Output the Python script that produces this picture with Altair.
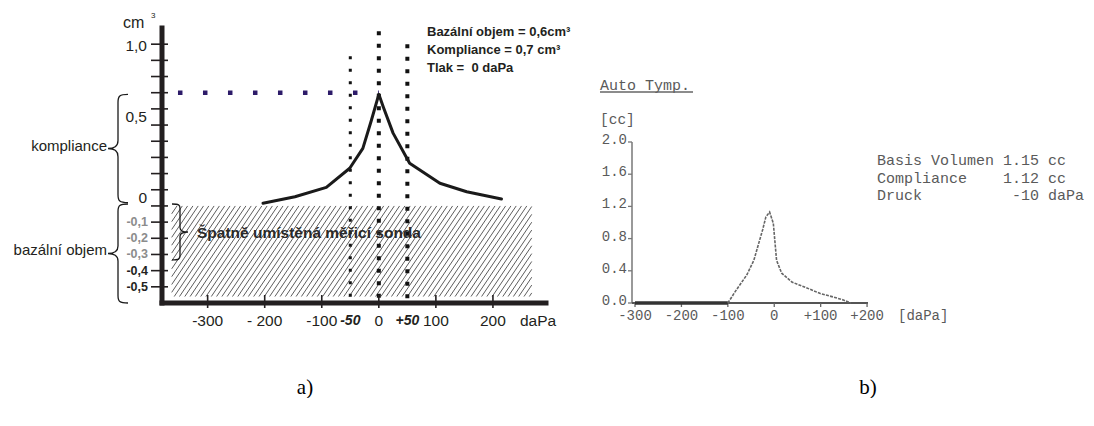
import altair as alt
import numpy as np
import pandas as pd

# ---------------- panel a) data ----------------
a_pressure = [-203, -147, -92, -51, -28, -13, 0, 8, 25, 54, 107, 154, 215]
a_volume = [0.017, 0.057, 0.115, 0.233, 0.356, 0.53, 0.69, 0.61, 0.45, 0.264, 0.14, 0.088, 0.043]
a_xticks = [-300, -200, -100, 0, 100, 200]
a_xtick_labels = ["-300", "- 200", "-100", "0", "100", "200"]
a_mark_x = [-50, 50]
a_mark_labels = ["-50", "+50"]
a_yticks = [1.0, 0.9, 0.8, 0.7, 0.6, 0.5, 0.4, 0.3, 0.2, 0.1, 0.0, -0.1, -0.2, -0.3, -0.4, -0.5]
a_ylab_top = [1.0]
a_ylab_top_text = ["1,0"]
a_ylab_mid = [0.5, 0.0]
a_ylab_mid_text = ["0,5", "0"]
a_ylab_gray = [-0.1, -0.2, -0.3]
a_ylab_gray_text = ["-0,1", "-0,2", "-0,3"]
a_ylab_bold = [-0.4, -0.5]
a_ylab_bold_text = ["-0,4", "-0,5"]
a_compliance = 0.7
a_compliance_from = -352
a_guides = [-50, 0, 50]
a_guide_tops = [0.925, 1.08, 1.0]
a_guide_bottom = -0.612
a_hatch_x = [-363, 268]
a_hatch_y = [-0.56, 0.0]
a_info = ["Bazální objem = 0,6cm³", "Kompliance = 0,7 cm³", "Tlak =  0 daPa"]
a_komp_span = [0.02, 0.69]
a_baz_span = [-0.6, 0.012]
a_probe_span = [-0.334, 0.012]

# ---------------- panel b) data ----------------
b_pressure = [-100, -82, -59, -44, -33, -25, -18, -10, -2, 5, 16, 38, 69, 98, 127, 149, 165]
b_volume = [0.0, 0.16, 0.35, 0.53, 0.75, 0.91, 1.07, 1.13, 0.99, 0.53, 0.37, 0.26, 0.19, 0.12, 0.075, 0.037, 0.0]
b_base_pressure = [-300, -100]
b_base_volume = [0.0, 0.0]
b_xticks = [-300, -200, -100, 0, 100, 200]
b_xtick_labels = ["-300", "-200", "-100", "0", "+100", "+200"]
b_yticks = [0.0, 0.4, 0.8, 1.2, 1.6, 2.0]
b_ytick_labels = ["0.0", "0.4", "0.8", "1.2", "1.6", "2.0"]
b_info = ["Basis Volumen 1.15 cc", "Compliance    1.12 cc", "Druck          -10 daPa"]

NBSP = "\u00a0"
a_info_txt = [s.replace(" ", NBSP) for s in a_info]
b_info_txt = [s.replace(" ", NBSP) for s in b_info]

# ---------------- geometry ----------------
WA, HA = 384, 275
XA = [-380, 293]
YA = [-0.6, 1.1]
WB, HB = 236, 275
XB = [-306.5, 202]
YB = [0.0, 3.416]
pxA = WA / (XA[1] - XA[0])
pyA = HA / (YA[1] - YA[0])

sxA = alt.Scale(domain=XA, nice=False, zero=False)
syA = alt.Scale(domain=YA, nice=False, zero=False)
sxB = alt.Scale(domain=XB, nice=False, zero=False)
syB = alt.Scale(domain=YB, nice=False, zero=False)

SANS = "Liberation Sans"
MONO = "Liberation Mono"
INK = "#231f20"
GREY_B = "#5a5a5a"

one = pd.DataFrame({"_": [0]})


def XQ(f, s):
    return alt.X(f, type="quantitative", scale=s, axis=None)


def YQ(f, s):
    return alt.Y(f, type="quantitative", scale=s, axis=None)


def brace_path(w, tip):
    t = -w if tip == "left" else w
    e = -t
    f = lambda v: f"{v:.3f}"
    return (f"M{f(e)},-1 C{f(e*0.15)},-1 0,-0.97 0,-0.85 L0,-0.15 "
            f"C0,-0.04 {f(t*0.4)},0 {f(t)},0 C{f(t*0.4)},0 0,0.04 0,0.15 "
            f"L0,0.85 C0,0.97 {f(e*0.15)},1 {f(e)},1")


def brace(span, xpx, halfw_px, tip):
    h = (span[1] - span[0]) * pyA
    df = pd.DataFrame({"y": [(span[0] + span[1]) / 2]})
    return alt.Chart(df).mark_point(
        shape=brace_path(halfw_px / (h / 2), tip), size=h * h, filled=False,
        color="#1a1a1a", strokeWidth=1.3, opacity=1
    ).encode(x=alt.value(xpx), y=YQ("y", syA))


# hatch lines inside the "wrong probe" rectangle
Wh = (a_hatch_x[1] - a_hatch_x[0]) * pxA
Hh = (a_hatch_y[1] - a_hatch_y[0]) * pyA
k = np.tan(np.radians(56))
rows = []
for c in np.arange(-Hh / k, Wh, 5.3):
    u0 = max(0.0, c)
    u1 = min(Wh, c + Hh / k)
    rows.append({
        "x": a_hatch_x[0] + u0 / pxA, "y": a_hatch_y[0] + k * (u0 - c) / pyA,
        "x2": a_hatch_x[0] + u1 / pxA, "y2": a_hatch_y[0] + k * (u1 - c) / pyA,
    })
hatch_df = pd.DataFrame(rows)

# ---------------- panel a) layers ----------------
anchor = alt.Chart(one).mark_rect(opacity=0).encode(
    x=alt.value(-154), x2=alt.value(-153), y=alt.value(-20), y2=alt.value(-19))

hatch = alt.Chart(hatch_df).mark_rule(color="#333333", strokeWidth=0.8).encode(
    x=XQ("x", sxA), y=YQ("y", syA), x2="x2", y2="y2")

comp = alt.Chart(pd.DataFrame({"x": [a_compliance_from], "x2": [0], "y": [a_compliance]})).mark_rule(
    color="#2d1b69", strokeWidth=4.5, strokeDash=[4.5, 20.5]).encode(
    x=XQ("x", sxA), x2="x2", y=YQ("y", syA))

guide_styles = [(3, [3, 9.5]), (4, [4, 8.5]), (4, [4, 8.5])]
guides = []
for gx, gt, (gw, gd) in zip(a_guides, a_guide_tops, guide_styles):
    guides.append(alt.Chart(pd.DataFrame({"x": [gx], "y": [gt], "y2": [a_guide_bottom]})).mark_rule(
        color="#111111", strokeWidth=gw, strokeDash=gd).encode(
        x=XQ("x", sxA), y=YQ("y", syA), y2="y2"))

curveA = alt.Chart(pd.DataFrame({"p": a_pressure, "v": a_volume})).mark_line(
    color="#1a1a1a", strokeWidth=3, strokeJoin="round", strokeCap="round").encode(
    x=XQ("p", sxA), y=YQ("v", syA))

yaxisA = alt.Chart(one).mark_rule(color=INK, strokeWidth=5, strokeCap="square").encode(
    x=alt.value(0), y=alt.value(0), y2=alt.value(HA))
xaxisA = alt.Chart(one).mark_rule(color=INK, strokeWidth=5, strokeCap="square").encode(
    y=alt.value(HA), x=alt.value(0), x2=alt.value(WA))

yticksA = alt.Chart(pd.DataFrame({"v": a_yticks})).mark_rule(color=INK, strokeWidth=1.6).encode(
    y=YQ("v", syA), x=alt.value(-11), x2=alt.value(6))
xticksA = alt.Chart(pd.DataFrame({"v": a_xticks})).mark_rule(color=INK, strokeWidth=1.6).encode(
    x=XQ("v", sxA), y=alt.value(HA - 8), y2=alt.value(HA + 5))


def ylabels(vals, texts, dx, dy, **kw):
    return alt.Chart(pd.DataFrame({"v": vals, "t": texts})).mark_text(
        align="right", baseline="middle", font=SANS, dy=dy, **kw).encode(
        x=alt.value(dx), y=YQ("v", syA), text="t:N")


ylabA1 = ylabels(a_ylab_top, a_ylab_top_text, -15, 2, fontSize=15.5, color=INK)
ylabA2 = ylabels(a_ylab_mid, a_ylab_mid_text, -15, -8, fontSize=15.5, color=INK)
ylabA3 = ylabels(a_ylab_gray, a_ylab_gray_text, -14, 0, fontSize=12.5, fontWeight="bold", color="#8c8c8c")
ylabA4 = ylabels(a_ylab_bold, a_ylab_bold_text, -14, 0, fontSize=12.5, fontWeight="bold", color=INK)

xlabA = alt.Chart(pd.DataFrame({"v": a_xticks, "t": a_xtick_labels})).mark_text(
    align="center", baseline="middle", font=SANS, fontSize=15.5, color=INK).encode(
    x=XQ("v", sxA), y=alt.value(HA + 18), text="t:N")
xlabA2 = alt.Chart(pd.DataFrame({"v": a_mark_x, "t": a_mark_labels})).mark_text(
    align="center", baseline="middle", font=SANS, fontSize=14, fontWeight="bold",
    fontStyle="italic", color=INK).encode(
    x=XQ("v", sxA), y=alt.value(HA + 18), text="t:N")
unitA = alt.Chart(one).mark_text(align="left", baseline="middle", font=SANS, fontSize=15.5,
                                 color=INK, text="daPa").encode(x=alt.value(358), y=alt.value(HA + 18))

cmA = alt.Chart(one).mark_text(align="left", baseline="middle", font=SANS, fontSize=16,
                               color=INK, text="cm").encode(x=alt.value(-39), y=alt.value(-5))
cm3A = alt.Chart(one).mark_text(align="left", baseline="middle", font=SANS, fontSize=8,
                                color=INK, text="3").encode(x=alt.value(-11), y=alt.value(-12))

kompA = alt.Chart(one).mark_text(align="right", baseline="middle", font=SANS, fontSize=15,
                                 color=INK, text="kompliance").encode(x=alt.value(-55), y=alt.value(118))
bazA = alt.Chart(one).mark_text(align="right", baseline="middle", font=SANS, fontSize=15,
                                color=INK, text="bazální objem").encode(x=alt.value(-55), y=alt.value(222))

probeA = alt.Chart(one).mark_text(align="left", baseline="middle", font=SANS, fontSize=15.5,
                                  fontWeight="bold", color="#2a2a2a",
                                  text="Špatně umístěná měřicí sonda").encode(
    x=alt.value(35), y=alt.datum(-0.167))

infoA = alt.Chart(one).mark_text(align="left", baseline="middle", font=SANS, fontSize=13,
                                 fontWeight="bold", color=INK, text=a_info_txt, lineHeight=18).encode(
    x=alt.value(265), y=alt.value(4))

labelA = alt.Chart(one).mark_text(align="center", baseline="middle", font="Liberation Serif",
                                  fontSize=21, color="#000000", text="a)").encode(
    x=alt.value(143), y=alt.value(360))

panelA = alt.layer(
    anchor, hatch, comp, *guides, curveA, yaxisA, xaxisA, yticksA, xticksA,
    ylabA1, ylabA2, ylabA3, ylabA4, xlabA, xlabA2, unitA, cmA, cm3A, kompA, bazA,
    brace(a_komp_span, -44, 10, "left"), brace(a_baz_span, -44, 10, "left"),
    brace(a_probe_span, 18, 8, "right"), probeA, infoA, labelA,
).properties(width=WA, height=HA)

# ---------------- panel b) layers ----------------
yaxisB = alt.Chart(pd.DataFrame({"a": [b_yticks[0]], "b": [b_yticks[-1]]})).mark_rule(
    color="#777777", strokeWidth=1.5).encode(x=alt.value(0), y=YQ("a", syB), y2="b")
xaxisB = alt.Chart(one).mark_rule(color="#555555", strokeWidth=2).encode(
    y=alt.value(HB), x=alt.value(0), x2=alt.value(WB))
yticksB = alt.Chart(pd.DataFrame({"v": b_yticks})).mark_rule(color="#777777", strokeWidth=1.3).encode(
    y=YQ("v", syB), x=alt.value(-4), x2=alt.value(0))
xticksB = alt.Chart(pd.DataFrame({"v": b_xticks})).mark_rule(color="#666666", strokeWidth=1.3).encode(
    x=XQ("v", sxB), y=alt.value(HB), y2=alt.value(HB + 4))
ylabB = alt.Chart(pd.DataFrame({"v": b_yticks, "t": b_ytick_labels})).mark_text(
    align="right", baseline="middle", font=MONO, fontSize=14, dy=-2, color=GREY_B).encode(
    x=alt.value(-5), y=YQ("v", syB), text="t:N")
xlabB = alt.Chart(pd.DataFrame({"v": b_xticks, "t": b_xtick_labels})).mark_text(
    align="center", baseline="middle", font=MONO, fontSize=14, color=GREY_B).encode(
    x=XQ("v", sxB), y=alt.value(HB + 13), text="t:N")
unitB = alt.Chart(one).mark_text(align="left", baseline="middle", font=MONO, fontSize=14,
                                 color=GREY_B, text="[daPa]").encode(x=alt.value(266), y=alt.value(HB + 13))
ccB = alt.Chart(one).mark_text(align="left", baseline="middle", font=MONO, fontSize=14.5,
                               color=GREY_B, text="[cc]").encode(x=alt.value(-32), y=alt.value(92))
titleB = alt.Chart(one).mark_text(align="left", baseline="middle", font=MONO, fontSize=15,
                                  color=GREY_B, text="Auto Tymp.").encode(x=alt.value(-32), y=alt.value(57))
ulineB = alt.Chart(one).mark_rule(color="#666666", strokeWidth=1.5).encode(
    x=alt.value(-32), x2=alt.value(61), y=alt.value(64))
baseB = alt.Chart(pd.DataFrame({"p": b_base_pressure, "v": b_base_volume})).mark_line(
    color="#333333", strokeWidth=3.5).encode(x=XQ("p", sxB), y=YQ("v", syB))
curveB = alt.Chart(pd.DataFrame({"p": b_pressure, "v": b_volume})).mark_line(
    color="#666666", strokeWidth=1.6, strokeDash=[3, 1.2]).encode(x=XQ("p", sxB), y=YQ("v", syB))
infoB = alt.Chart(one).mark_text(align="left", baseline="middle", font=MONO, fontSize=15,
                                 color=GREY_B, text=b_info_txt, lineHeight=17.5).encode(
    x=alt.value(245), y=alt.value(132))
labelB = alt.Chart(one).mark_text(align="center", baseline="middle", font="Liberation Serif",
                                  fontSize=21, color="#000000", text="b)").encode(
    x=alt.value(236), y=alt.value(360))

panelB = alt.layer(
    yaxisB, xaxisB, yticksB, xticksB, ylabB, xlabB, unitB, ccB, titleB, ulineB,
    baseB, curveB, infoB, labelB,
).properties(width=WB, height=HB)

chart = alt.hconcat(panelA, panelB, spacing=86, bounds="flush").properties(
    padding=0).configure_view(stroke=None)

chart.save("out.html", embed_options={"renderer": "svg", "actions": False})
